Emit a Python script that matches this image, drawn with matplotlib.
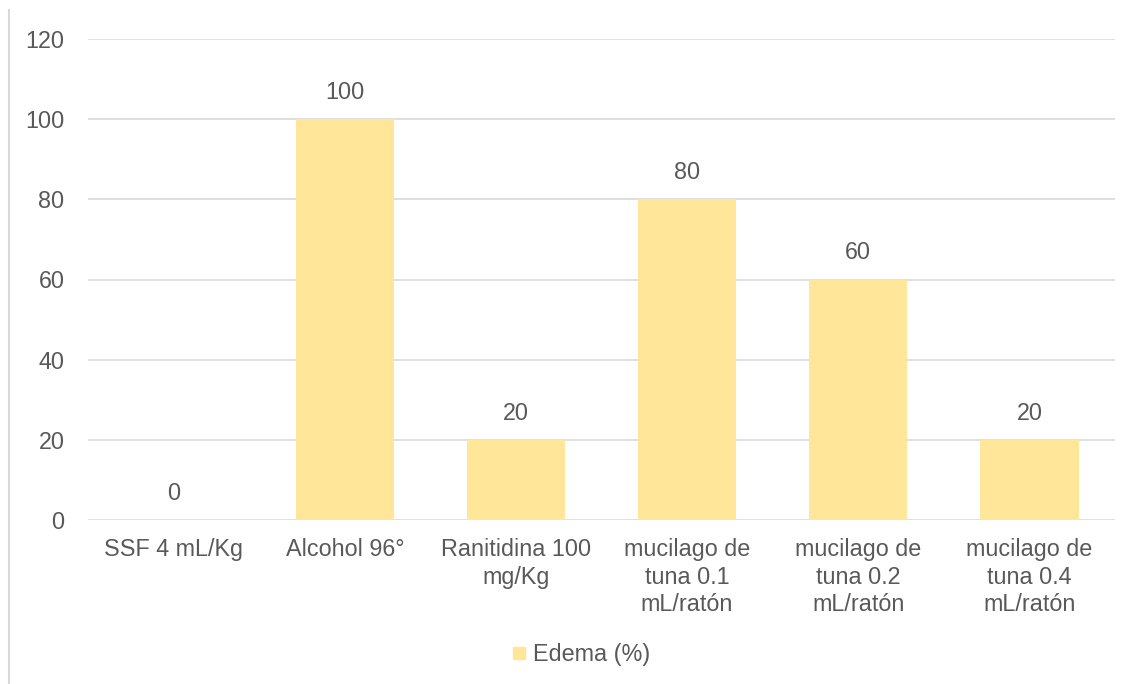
import matplotlib.pyplot as plt
from matplotlib.lines import Line2D

plt.rcParams['font.family'] = ['Liberation Sans', 'DejaVu Sans']

categories = ["SSF 4 mL/Kg", "Alcohol 96°", "Ranitidina 100\nmg/Kg",
              "mucilago de\ntuna 0.1\nmL/ratón", "mucilago de\ntuna 0.2\nmL/ratón",
              "mucilago de\ntuna 0.4\nmL/ratón"]
edema = [0, 100, 20, 80, 60, 20]
yticks = [0, 20, 40, 60, 80, 100, 120]

W, H = 1135, 684
fig = plt.figure(figsize=(W / 100, H / 100), dpi=100)
ax = fig.add_axes([88 / W, 1 - 520 / H, (1115 - 88) / W, (520 - 39) / H])

txt = '#595959'
fs = 16.8
bar_color = '#FFE699'
x = range(len(categories))
bars = ax.bar(x, edema, width=0.575, color=bar_color, zorder=2, label='Edema (%)')
for xi, v in zip(x, edema):
    ax.annotate(str(v), (xi, v), xytext=(0, 11), textcoords='offset points',
                ha='center', va='bottom', fontsize=fs, color=txt)

ax.set_xlim(-0.5, len(categories) - 0.5)
ax.set_ylim(0, 120)
ax.set_yticks(yticks)
ax.set_xticks(list(x))
ax.set_xticklabels(categories, fontsize=fs, color=txt, linespacing=1.25)
ax.tick_params(axis='y', labelsize=fs, labelcolor=txt, length=0, pad=17)
ax.tick_params(axis='x', length=0, pad=13)
ax.grid(axis='y', color='#d9d9d9', linewidth=1.2, zorder=0)
for s in ax.spines.values():
    s.set_visible(False)

handle = Line2D([], [], marker='s', color='none', markerfacecolor=bar_color,
                markeredgecolor=bar_color, markersize=8)
fig.legend([handle], ['Edema (%)'], loc='center', bbox_to_anchor=(578 / W, 1 - 655 / H),
           frameon=False, fontsize=fs, labelcolor=txt, handletextpad=0.0,
           handlelength=1.2)

fig.add_artist(Line2D([8.5 / W, 8.5 / W], [0, 1 - 10 / H], color='#d9d9d9',
                      linewidth=1.5, transform=fig.transFigure))

fig.savefig('out.png', dpi=100, facecolor='white')
